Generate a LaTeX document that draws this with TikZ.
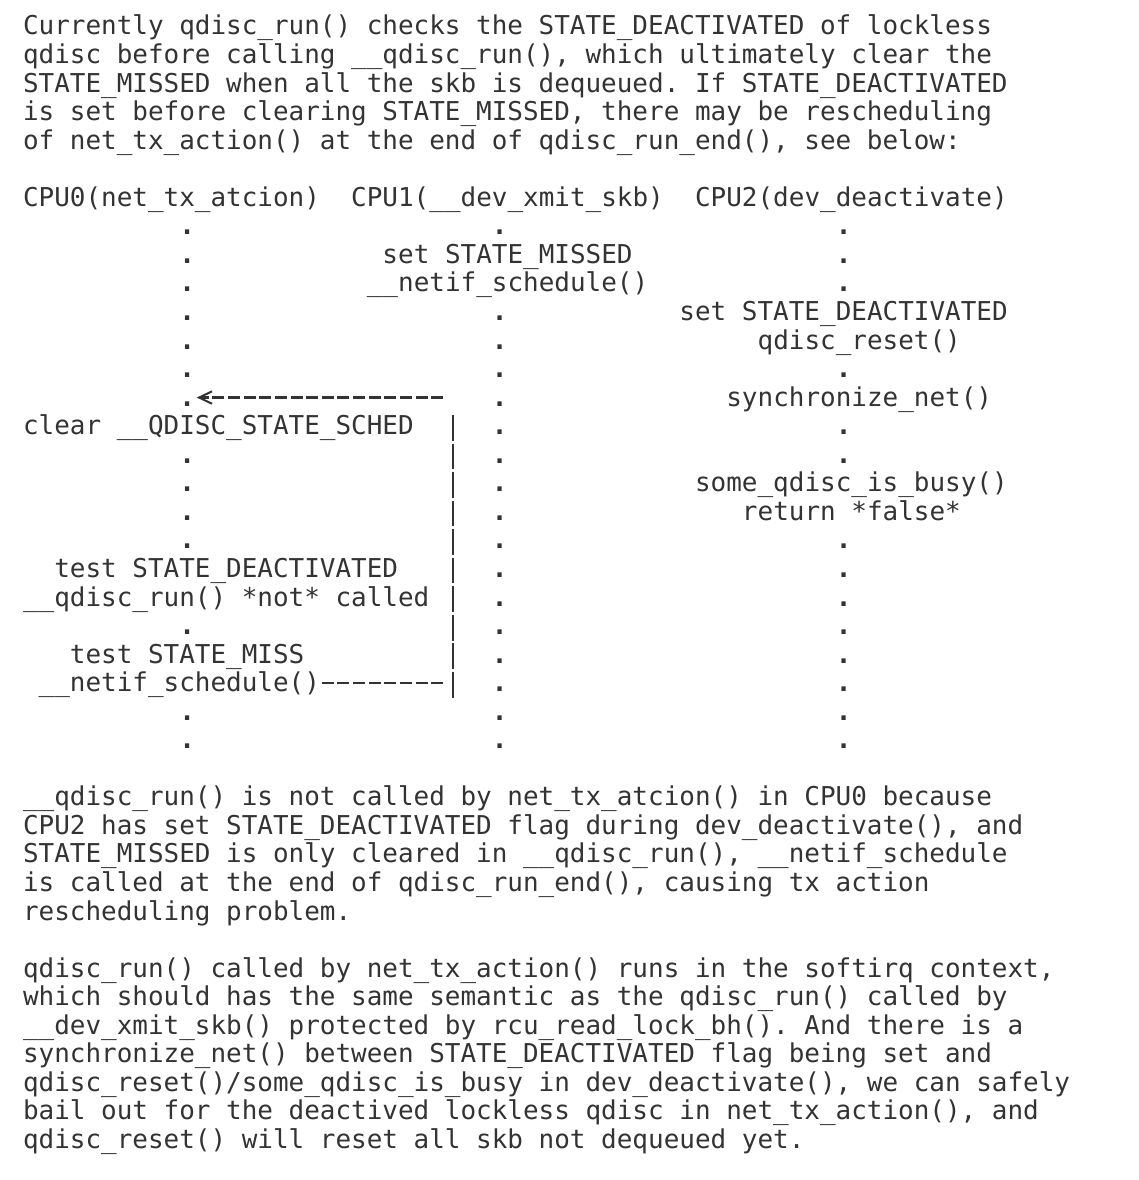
\documentclass[tikz,border=0pt]{standalone}
\usepackage{fontspec}
\setmonofont{DejaVu Sans Mono}
\usepackage{xcolor}
\usepackage{tikz}
\usetikzlibrary{arrows.meta}

\definecolor{ink}{HTML}{333333}
\tikzset{
  txt/.style={anchor=base west, inner sep=0pt, outer sep=0pt, text=ink,
    font=\ttfamily\frenchspacing\fontsize{12.98}{14.275}\selectfont},
  tick/.style={txt, font=\ttfamily\bfseries\fontsize{12.98}{14.275}\selectfont},
  dashrule/.style={draw=ink, line width=1.1pt, dash pattern=on 6pt off 1.815pt},
  barrule/.style={draw=ink, line width=1pt, dash pattern=on 12.85pt off 1.425pt},
}

\begin{document}
\begin{tikzpicture}[x=7.815pt, y=-14.275pt]
    \useasboundingbox (-1.4715,-0.2259) rectangle (71.337,41.105);

    % intro
    \node[txt] (intro1) at (0,1) {Currently qdisc\_run() checks the STATE\_DEACTIVATED of lockless};
    \node[txt] (intro2) at (0,2) {qdisc before calling \_\_qdisc\_run(), which ultimately clear the};
    \node[txt] (intro3) at (0,3) {STATE\_MISSED when all the skb is dequeued. If STATE\_DEACTIVATED};
    \node[txt] (intro4) at (0,4) {is set before clearing STATE\_MISSED, there may be rescheduling};
    \node[txt] (intro5) at (0,5) {of net\_tx\_action() at the end of qdisc\_run\_end(), see below:};

    % the three cpus
    \node[txt] (cpu0) at (0,7) {CPU0(net\_tx\_atcion)};
    \node[txt] (cpu1) at (21,7) {CPU1(\_\_dev\_xmit\_skb)};
    \node[txt] (cpu2) at (43,7) {CPU2(dev\_deactivate)};

    \foreach \r in {8,9,10,11,12,13,14,16,17,18,19,22,25,26}
        \node[tick] (c0dot\r) at (10,\r) {.};
    \foreach \r in {8,11,12,13,14,15,16,17,18,19,20,21,22,23,24,25,26}
        \node[tick] (c1dot\r) at (30,\r) {.};
    \foreach \r in {8,9,10,13,15,16,19,20,21,22,23,24,25,26}
        \node[tick] (c2dot\r) at (52,\r) {.};

    % CPU1
    \node[txt] (missed1) at (23,9) {set STATE\_MISSED};
    \node[txt] (sched1) at (22,10) {\_\_netif\_schedule()};
    % CPU2
    \node[txt] (deact2) at (42,11) {set STATE\_DEACTIVATED};
    \node[txt] (reset2) at (47,12) {qdisc\_reset()};
    \node[txt] (sync2) at (45,14) {synchronize\_net()};
    \node[txt] (busy2) at (43,17) {some\_qdisc\_is\_busy()};
    \node[txt] (false2) at (46,18) {return *false*};
    % CPU0
    \node[txt] (clear0) at (0,15) {clear \_\_QDISC\_STATE\_SCHED};
    \node[txt] (test0) at (2,20) {test STATE\_DEACTIVATED};
    \node[txt] (run0) at (0,21) {\_\_qdisc\_run() *not* called};
    \node[txt] (miss0) at (3,23) {test STATE\_MISS};
    \node[txt] (sched0) at (1,24) {\_\_netif\_schedule()};

    % the reschedule going back to CPU0
    \coordinate (bar top) at (27.5,14.31);
    \coordinate (bar bottom) at (27.5,24.21);
    \coordinate (hook) at ([yshift=4.3pt]sched0.base east);
    \coordinate (back) at ([xshift=0.9pt,yshift=4.3pt]c0dot14.base east);
    \draw[dashrule, shorten <=0.9pt, shorten >=4.8pt] (hook) -- (hook -| bar bottom);
    \draw[barrule] (bar top) -- (bar bottom);
    \draw[dashrule, -{Straight Barb[length=6.5pt,width=6.2pt,line width=1pt]}, shorten <=4.8pt] (back -| bar top) -- (back);

    % explanation
    \node[txt] (why1) at (0,28) {\_\_qdisc\_run() is not called by net\_tx\_atcion() in CPU0 because};
    \node[txt] (why2) at (0,29) {CPU2 has set STATE\_DEACTIVATED flag during dev\_deactivate(), and};
    \node[txt] (why3) at (0,30) {STATE\_MISSED is only cleared in \_\_qdisc\_run(), \_\_netif\_schedule};
    \node[txt] (why4) at (0,31) {is called at the end of qdisc\_run\_end(), causing tx action};
    \node[txt] (why5) at (0,32) {rescheduling problem.};

    \node[txt] (fix1) at (0,34) {qdisc\_run() called by net\_tx\_action() runs in the softirq context,};
    \node[txt] (fix2) at (0,35) {which should has the same semantic as the qdisc\_run() called by};
    \node[txt] (fix3) at (0,36) {\_\_dev\_xmit\_skb() protected by rcu\_read\_lock\_bh(). And there is a};
    \node[txt] (fix4) at (0,37) {synchronize\_net() between STATE\_DEACTIVATED flag being set and};
    \node[txt] (fix5) at (0,38) {qdisc\_reset()/some\_qdisc\_is\_busy in dev\_deactivate(), we can safely};
    \node[txt] (fix6) at (0,39) {bail out for the deactived lockless qdisc in net\_tx\_action(), and};
    \node[txt] (fix7) at (0,40) {qdisc\_reset() will reset all skb not dequeued yet.};
\end{tikzpicture}
\end{document}
